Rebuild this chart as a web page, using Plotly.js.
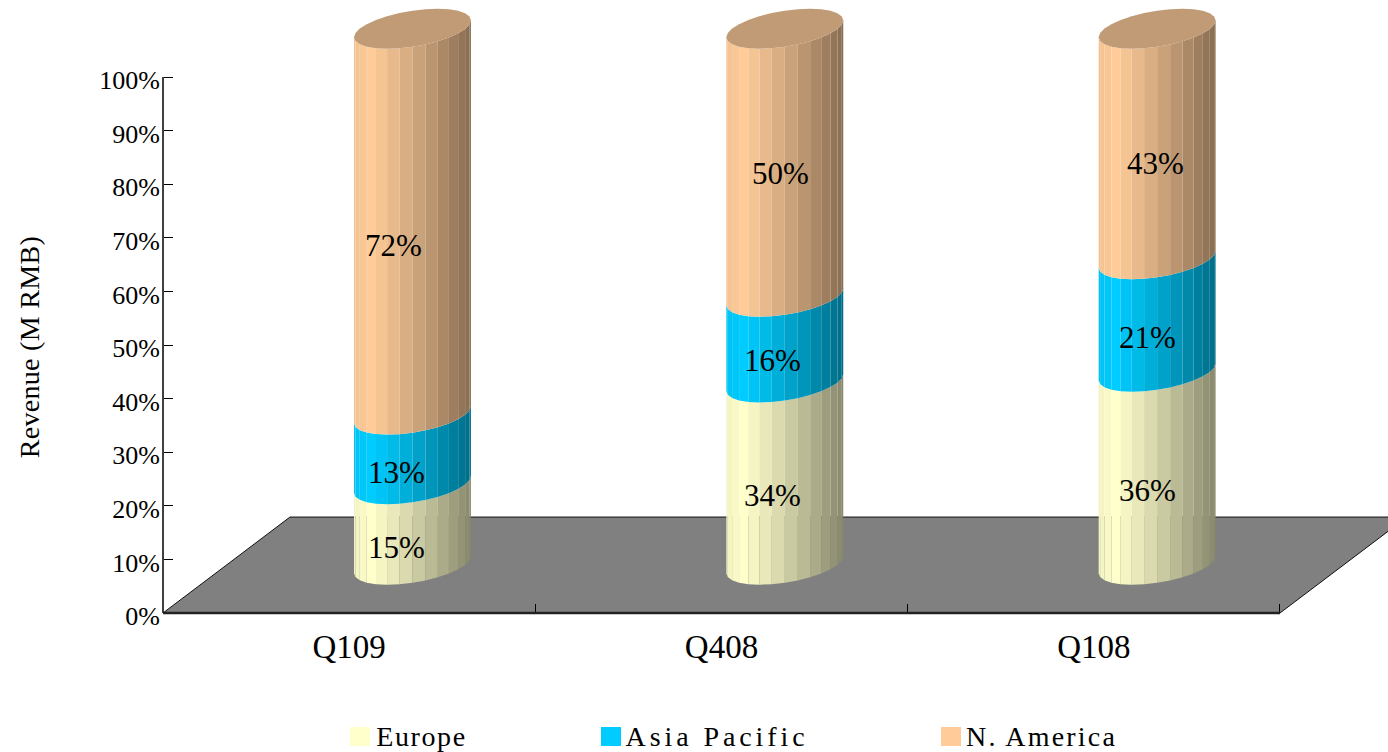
<!DOCTYPE html>
<html>
<head>
<meta charset="utf-8">
<script src="https://cdn.plot.ly/plotly-3.0.1.min.js"></script>
<style>
html, body { margin: 0; padding: 0; background: #fff; }
.annotation[data-index="0"] text { letter-spacing: 1.6px; }
.annotation[data-index="1"] text { letter-spacing: 3.9px; }
.annotation[data-index="2"] text { letter-spacing: 2.2px; }
.annotation[data-index="3"] text { letter-spacing: 0.3px; }
</style>
</head>
<body>
<div id="chart" style="width:1388px;height:752px;"></div>
<script>
// Revenue share per quarter, stacked bottom to top
const quarters = ['Q109', 'Q408', 'Q108'];
const seriesNames = ['Europe', 'Asia Pacific', 'N. America'];
const europe = [15, 34, 36];
const asiaPacific = [13, 16, 21];
const nAmerica = [72, 50, 43];
const yTicks = [0, 10, 20, 30, 40, 50, 60, 70, 80, 90, 100];

const seriesValues = [europe, asiaPacific, nAmerica];
const seriesColors = [[255, 255, 204], [0, 204, 255], [255, 204, 153]];

// Canvas and axis placement in pixels; the axes span the whole canvas so the
// pseudo-3D marks can rise above 100% and run past the last category
const W = 1388, H = 752;
const originX = 163, originY = 613;
const pxPerCategory = 372.33, pxPerPercent = 5.36;

// Pseudo-3D geometry, expressed in axis units
const depthX = 0.341, depthY = 17.9;     // floor depth vector
const cylOffsetX = 0.17, cylBaseY = 9;   // cylinder axis relative to its category
const radiusX = 0.157;                   // half width of a cylinder
const radiusY = 3.36, tiltY = 1.59;      // ellipse minor radius and tilt
const facets = 14;                       // facets on the visible front half

// Point on the tilted ellipse around a cylinder's axis at height y
function rim(cx, y, angle) {
  return [cx + radiusX * Math.cos(angle),
          y - radiusY * Math.sin(angle) + tiltY * Math.cos(angle)];
}

// Light falls from the front left: brightest a little in from the left edge
function shade(rgb, u) {
  const f = u < 0.15 ? 0.95 + 0.05 * u / 0.15
                     : 1 - 0.47 * Math.pow((u - 0.15) / 0.85, 1.1);
  return 'rgb(' + rgb.map(c => Math.round(c * f)).join(',') + ')';
}

function polygon(xs, ys, color) {
  return { type: 'scatter', mode: 'lines', x: xs, y: ys, fill: 'toself', fillcolor: color,
           line: { width: 0 }, hoverinfo: 'skip', showlegend: false };
}

const traces = [];

// Grey floor
traces.push({ type: 'scatter', mode: 'lines', fill: 'toself', fillcolor: '#808080',
  x: [-0.5, 2.5, 2.5 + depthX, -0.5 + depthX, -0.5], y: [0, 0, depthY, depthY, 0],
  line: { color: '#111', width: 1 }, hoverinfo: 'skip', showlegend: false });

// Faceted cylinders, one polygon per facet per stacked segment
quarters.forEach((q, i) => {
  const cx = i + cylOffsetX;
  let cum = 0;
  seriesValues.forEach((vals, s) => {
    const lo = cylBaseY + cum, hi = lo + vals[i];
    for (let k = 0; k < facets; k++) {
      const t1 = Math.PI - Math.PI * k / facets;
      const t2 = Math.PI - Math.PI * (k + 1) / facets;
      const p1 = rim(cx, lo, t1), p2 = rim(cx, lo, t2);
      const p3 = rim(cx, hi, t2), p4 = rim(cx, hi, t1);
      const frac = ((p1[0] + p2[0]) / 2 - (cx - radiusX)) / (2 * radiusX);
      traces.push(polygon([p1[0], p2[0], p3[0], p4[0], p1[0]],
                          [p1[1], p2[1], p3[1], p4[1], p1[1]],
                          shade(seriesColors[s], frac)));
    }
    cum += vals[i];
  });
  // Top cap
  const capX = [], capY = [];
  for (let k = 0; k <= facets * 2; k++) {
    const p = rim(cx, cylBaseY + cum, Math.PI * k / facets);
    capX.push(p[0]); capY.push(p[1]);
  }
  traces.push(polygon(capX, capY, 'rgb(192,155,118)'));
});

// Legend row, placed in page fractions
const legendSwatchX = [350, 601, 941];
const legendTextCenterX = [421.5, 716.5, 1042];
const annotations = seriesNames.map((name, s) => ({
  xref: 'paper', yref: 'paper', xanchor: 'center', yanchor: 'middle', showarrow: false,
  x: legendTextCenterX[s] / W, y: 1 - 736 / H, text: name,
  font: { family: 'Liberation Serif', size: 28, color: '#000' }
}));
const shapes = seriesNames.map((name, s) => ({
  type: 'rect', xref: 'paper', yref: 'paper', line: { width: 0 },
  fillcolor: 'rgb(' + seriesColors[s].join(',') + ')',
  x0: legendSwatchX[s] / W, x1: (legendSwatchX[s] + 20) / W,
  y0: 1 - 746 / H, y1: 1 - 727 / H
}));

// Value axis title
annotations.push({
  xref: 'paper', yref: 'paper', xanchor: 'center', yanchor: 'middle',
  x: 29 / W, y: 1 - 347 / H, textangle: -90, showarrow: false,
  text: 'Revenue (M RMB)', font: { family: 'Liberation Serif', size: 28, color: '#000' }
});

// Axis lines stop at the ends of the scale
shapes.push({ type: 'line', xref: 'x', yref: 'y', x0: -0.5, x1: -0.5, y0: 0, y1: 100,
              line: { color: '#000', width: 1.5 } });
shapes.push({ type: 'line', xref: 'x', yref: 'y', x0: -0.5, x1: 2.5, y0: 0, y1: 0,
              line: { color: '#222', width: 2.5 } });

// Percentage labels sit low and left of each segment's centre
const labelShiftX = [[-16, -12, -10], [-16, -12, -10], [-19, -4, -2]];
const labelDropY = [[22.6, 21.6, 22.6], [22.6, 20.6, 21.6], [23.6, 10.6, 19.6]];
quarters.forEach((q, i) => {
  let cum = 0;
  seriesValues.forEach((vals, s) => {
    annotations.push({
      xref: 'x', yref: 'y', x: i + cylOffsetX, y: cylBaseY + cum + vals[i] / 2,
      xshift: labelShiftX[s][i], yshift: -labelDropY[s][i], showarrow: false,
      text: vals[i] + '%', font: { family: 'Liberation Serif', size: 31, color: '#000' }
    });
    cum += vals[i];
  });
});

const layout = {
  width: W, height: H, showlegend: false, hovermode: false,
  paper_bgcolor: '#fff', plot_bgcolor: 'rgba(0,0,0,0)',
  margin: { l: 0, r: 0, t: 0, b: 0, pad: 0 },
  xaxis: {
    type: 'linear', anchor: 'free', position: (H - originY) / H,
    range: [-0.5 - originX / pxPerCategory, -0.5 + (W - originX) / pxPerCategory],
    tickmode: 'array', tickvals: [0, 1, 2], ticktext: quarters,
    ticks: '', showgrid: false, zeroline: false, showline: false,
    tickfont: { family: 'Liberation Serif', size: 33, color: '#000' }, ticklabelstandoff: 11,
    minor: { tickmode: 'array', tickvals: [0.5, 1.5, 2.5], ticks: 'inside', ticklen: 9,
             tickcolor: '#000', tickwidth: 1, showgrid: false }
  },
  yaxis: {
    type: 'linear', anchor: 'free', position: originX / W,
    range: [-(H - originY) / pxPerPercent, originY / pxPerPercent],
    tickmode: 'array', tickvals: yTicks,
    ticktext: yTicks.map(v => v + '%'), ticks: 'inside', ticklen: 9, tickwidth: 1, tickcolor: '#000',
    showgrid: false, zeroline: false, showline: false,
    tickfont: { family: 'Liberation Serif', size: 26, color: '#000' }, ticklabelstandoff: 3,
    ticklabelshift: 3
  },
  annotations: annotations, shapes: shapes
};

Plotly.newPlot('chart', traces, layout, { displayModeBar: false, staticPlot: true });
</script>
</body>
</html>
